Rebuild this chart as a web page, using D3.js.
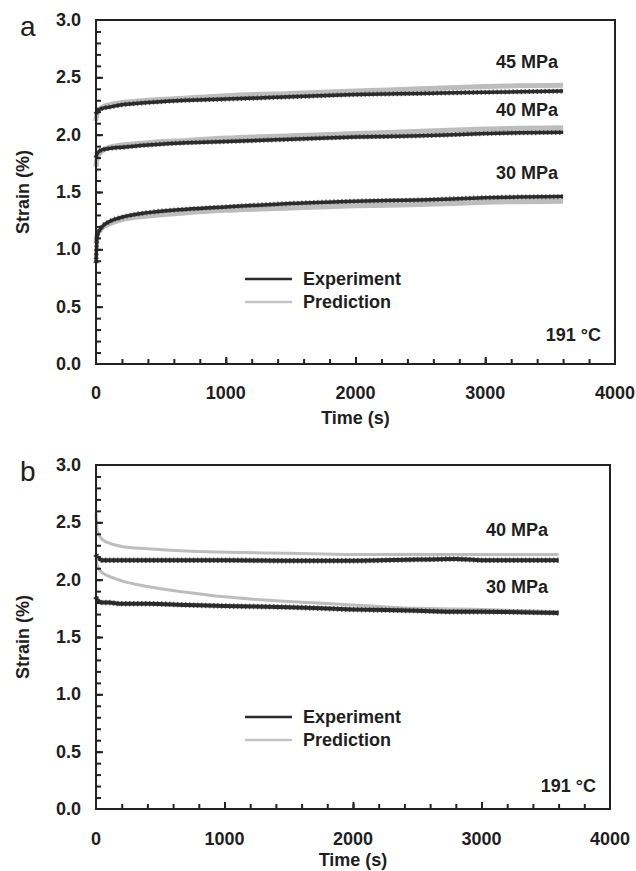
<!DOCTYPE html>
<html>
<head>
<meta charset="utf-8">
<script src="https://cdnjs.cloudflare.com/ajax/libs/d3/7.8.5/d3.min.js"></script>
<style>
  body { margin: 0; background: #fff; }
  text { font-family: "Liberation Sans", Arial, sans-serif; fill: #1e1e1e; }
</style>
</head>
<body>
<div id="chart"></div>
<script>
// time points (s) used by all curves
var timeA = [0, 10, 50, 100, 200, 400, 700, 1000, 1500, 2000, 2500, 3000, 3600];

// panel a - strain (%)
var exp45a  = [2.18, 2.21, 2.23, 2.24, 2.26, 2.28, 2.30, 2.31, 2.33, 2.35, 2.36, 2.37, 2.38];
var pred45a = [2.12, 2.20, 2.24, 2.26, 2.28, 2.30, 2.32, 2.34, 2.36, 2.38, 2.40, 2.42, 2.43];
var exp40a  = [1.80, 1.84, 1.87, 1.88, 1.89, 1.91, 1.93, 1.94, 1.96, 1.98, 1.99, 2.01, 2.02];
var pred40a = [1.72, 1.80, 1.86, 1.89, 1.91, 1.93, 1.95, 1.97, 1.99, 2.01, 2.03, 2.05, 2.06];
var exp30a  = [0.88, 1.12, 1.20, 1.24, 1.28, 1.32, 1.35, 1.37, 1.40, 1.42, 1.43, 1.45, 1.46];
var pred30a = [1.05, 1.13, 1.19, 1.22, 1.26, 1.29, 1.32, 1.34, 1.36, 1.38, 1.39, 1.41, 1.42];

// panel b
var timeB   = [0, 10, 50, 100, 200, 400, 700, 1000, 1500, 2000, 2500, 2800, 3000, 3600];
var exp40b  = [2.22, 2.19, 2.17, 2.17, 2.17, 2.17, 2.17, 2.17, 2.165, 2.165, 2.175, 2.18, 2.17, 2.17];
var pred40b = [2.58, 2.42, 2.35, 2.32, 2.29, 2.27, 2.25, 2.24, 2.23, 2.22, 2.22, 2.22, 2.22, 2.22];
var exp30b  = [1.85, 1.82, 1.80, 1.80, 1.79, 1.79, 1.78, 1.77, 1.76, 1.74, 1.73, 1.72, 1.72, 1.71];
var pred30b = [2.20, 2.12, 2.06, 2.03, 1.99, 1.94, 1.89, 1.85, 1.81, 1.78, 1.75, 1.745, 1.74, 1.72];

var xTicks = [0, 1000, 2000, 3000, 4000];
var yTicks = [0, 0.5, 1.0, 1.5, 2.0, 2.5, 3.0];
var legendNames = ["Experiment", "Prediction"];
var tempLabel = "191 °C";

var W = 636, H = 871;
var svg = d3.select("#chart").append("svg")
    .attr("width", W)
    .attr("height", H);

var expColor = "#2b2b2b", predColor = "#bdbdbd";
var fs = "18px";

function zip(t, v) { return t.map((d, i) => ({t: d, v: v[i]})); }

function drawPanel(opt) {
    var x = d3.scaleLinear().domain([0, 4000]).range([opt.left, opt.right]);
    var y = d3.scaleLinear().domain([0, 3]).range([opt.bottom, opt.top]);
    var g = svg.append("g");

    var line = d3.line()
        .x(d => x(d.t))
        .y(d => y(d.v))
        .curve(d3.curveMonotoneX);

    // curves: prediction underneath, experiment on top
    opt.series.forEach(s => {
        g.append("path")
            .datum(zip(opt.time, s.pred))
            .attr("d", line)
            .style("fill", "none")
            .style("stroke", predColor)
            .style("stroke-width", opt.predW);
        // dotted edge of the measured points
        g.append("path")
            .datum(zip(opt.time, s.exp))
            .attr("d", line)
            .style("fill", "none")
            .style("stroke", "#666")
            .style("stroke-dasharray", "1.5,2.5")
            .style("stroke-width", opt.expW + 1.5);
        g.append("path")
            .datum(zip(opt.time, s.exp))
            .attr("d", line)
            .style("fill", "none")
            .style("stroke", expColor)
            .style("stroke-width", opt.expW);
    });

    // ticks, inward
    g.append("g")
        .attr("transform", "translate(0," + opt.bottom + ")")
        .call(d3.axisTop(x).tickValues(d3.range(200, 4000, 200)).tickSize(5).tickFormat(""))
        .call(a => a.select(".domain").remove());
    g.append("g")
        .attr("transform", "translate(0," + opt.bottom + ")")
        .call(d3.axisTop(x).tickValues([1000, 2000, 3000]).tickSize(7).tickFormat(""))
        .call(a => a.select(".domain").remove());
    g.append("g")
        .attr("transform", "translate(" + opt.left + ",0)")
        .call(d3.axisRight(y).tickValues(d3.range(1, 30).map(d => d / 10)).tickSize(5).tickFormat(""))
        .call(a => a.select(".domain").remove());
    g.append("g")
        .attr("transform", "translate(" + opt.left + ",0)")
        .call(d3.axisRight(y).tickValues([0.5, 1, 1.5, 2, 2.5]).tickSize(7).tickFormat(""))
        .call(a => a.select(".domain").remove());
    g.selectAll(".tick line").style("stroke", "#222").style("stroke-width", 2);

    // frame
    g.append("rect")
        .attr("x", opt.left).attr("y", opt.top)
        .attr("width", opt.right - opt.left).attr("height", opt.bottom - opt.top)
        .style("fill", "none").style("stroke", "#222").style("stroke-width", 2);

    // tick labels
    g.selectAll(".xl").data(xTicks).enter().append("text")
        .attr("x", d => x(d)).attr("y", opt.bottom + opt.xLabDy)
        .attr("text-anchor", "middle")
        .style("font-size", fs).style("font-weight", "bold")
        .text(d => d);
    g.selectAll(".yl").data(yTicks).enter().append("text")
        .attr("x", opt.left - 15).attr("y", d => y(d) + 6)
        .attr("text-anchor", "end")
        .style("font-size", fs).style("font-weight", "bold")
        .text(d => d.toFixed(1));

    // axis titles
    g.append("text")
        .attr("x", (opt.left + opt.right) / 2).attr("y", opt.bottom + opt.titleDy)
        .attr("text-anchor", "middle")
        .style("font-size", fs).style("font-weight", "bold")
        .text("Time (s)");
    g.append("text")
        .attr("transform", "translate(29," + (opt.top + opt.bottom) / 2 + ") rotate(-90)")
        .attr("text-anchor", "middle")
        .style("font-size", fs).style("font-weight", "bold")
        .text("Strain (%)");

    // panel letter
    g.append("text")
        .attr("x", 20).attr("y", opt.top + 16)
        .style("font-size", "28px")
        .text(opt.letter);

    // stress labels
    opt.series.forEach(s => {
        g.append("text")
            .attr("x", opt.labX).attr("y", s.labY)
            .attr("text-anchor", "end")
            .style("font-size", fs).style("font-weight", "bold")
            .text(s.name);
    });

    // legend
    legendNames.forEach((n, i) => {
        var ly = opt.legY + i * opt.legGap;
        g.append("line")
            .attr("x1", 245).attr("x2", 292).attr("y1", ly).attr("y2", ly)
            .style("stroke", i === 0 ? expColor : "#c4c4c4")
            .style("stroke-width", 2.5);
        g.append("text")
            .attr("x", 303).attr("y", ly + 6)
            .style("font-size", fs).style("font-weight", "bold")
            .text(n);
    });

    g.append("text")
        .attr("x", opt.right - 14).attr("y", opt.tempY)
        .attr("text-anchor", "end")
        .style("font-size", fs).style("font-weight", "bold")
        .text(tempLabel);
}

drawPanel({
    letter: "a", left: 96, right: 615, top: 20, bottom: 364,
    time: timeA, expW: 3.5, predW: 5,
    series: [
        {name: "45 MPa", exp: exp45a, pred: pred45a, labY: 68},
        {name: "40 MPa", exp: exp40a, pred: pred40a, labY: 116},
        {name: "30 MPa", exp: exp30a, pred: pred30a, labY: 179}
    ],
    labX: 558, xLabDy: 35, titleDy: 60,
    legY: 279, legGap: 23, tempY: 341
});

drawPanel({
    letter: "b", left: 96, right: 610, top: 465, bottom: 809,
    time: timeB, expW: 4, predW: 3,
    series: [
        {name: "40 MPa", exp: exp40b, pred: pred40b, labY: 536},
        {name: "30 MPa", exp: exp30b, pred: pred30b, labY: 593}
    ],
    labX: 548, xLabDy: 36, titleDy: 57,
    legY: 717, legGap: 23, tempY: 792
});
</script>
</body>
</html>
